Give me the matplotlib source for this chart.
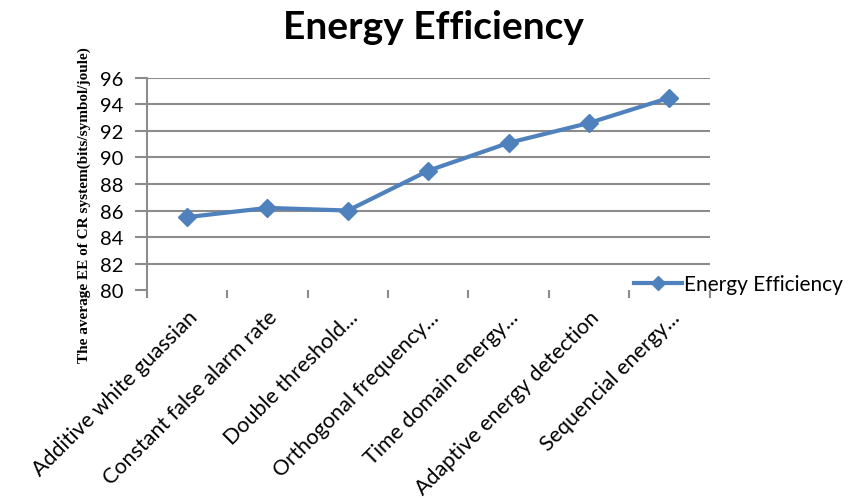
import matplotlib
matplotlib.use('Agg')
import matplotlib.pyplot as plt
import numpy as np

methods = ['Additive white guassian', 'Constant false alarm rate', 'Double threshold...',
           'Orthogonal frequency...', 'Time domain energy...', 'Adaptive energy detection',
           'Sequencial energy...']
efficiency = [85.5, 86.2, 86.0, 89.0, 91.1, 92.6, 94.5]
y_ticks = [80, 82, 84, 86, 88, 90, 92, 94, 96]

blue = '#4F81BD'
grid_grey = '#8C8C8C'

fig = plt.figure(figsize=(8.54, 5.02), dpi=100)
ax = fig.add_axes([0.172, 0.420, 0.659, 0.423])

x = np.arange(len(methods))
ax.plot(x, efficiency, color=blue, linewidth=3, marker='D', markersize=9,
        label='Energy Efficiency', zorder=3)

ax.set_xlim(-0.5, len(methods) - 0.5)
ax.set_ylim(80, 96)
ax.set_yticks(y_ticks)
ax.set_yticklabels([str(v) for v in y_ticks], fontfamily='Lato', fontsize=14.5)
for v in y_ticks[1:]:
    ax.axhline(v, color=grid_grey, linewidth=1.5, zorder=1)

# category labels at the centres, tick marks on the boundaries
ax.set_xticks(x)
ax.set_xticklabels(methods, rotation=45, ha='right', va='top', rotation_mode='anchor',
                   fontfamily='Lato', fontsize=15.5)
ax.tick_params(axis='x', which='major', length=0, pad=12)
ax.set_xticks(np.arange(0.5, len(methods), 1), minor=True)
ax.tick_params(axis='x', which='minor', length=6, width=1.5, color=grid_grey, direction='out')
ax.tick_params(axis='y', length=9, width=1.5, color=grid_grey, pad=8)

for s in ['top', 'right', 'bottom']:
    ax.spines[s].set_visible(False)
ax.spines['left'].set_color(grid_grey)
ax.spines['left'].set_linewidth(1.5)
ax.spines['left'].set_bounds(79.5, 96)

ax.set_ylabel('The average EE of CR system(bits/symbol/joule)', fontfamily='Liberation Serif',
              fontsize=11, fontweight='bold')
ax.yaxis.set_label_coords(-0.1, 0.405)

fig.text(0.507, 0.945, 'Energy Efficiency', ha='center', va='center',
         fontfamily='Lato', fontweight='bold', fontsize=28)

ax.legend(loc='center left', bbox_to_anchor=(0.72, 0.432), bbox_transform=fig.transFigure,
          frameon=False, prop={'family': 'Lato', 'size': 15}, handlelength=2.3,
          handletextpad=0.1, markerscale=0.8)

fig.savefig('out.png', dpi=100)
